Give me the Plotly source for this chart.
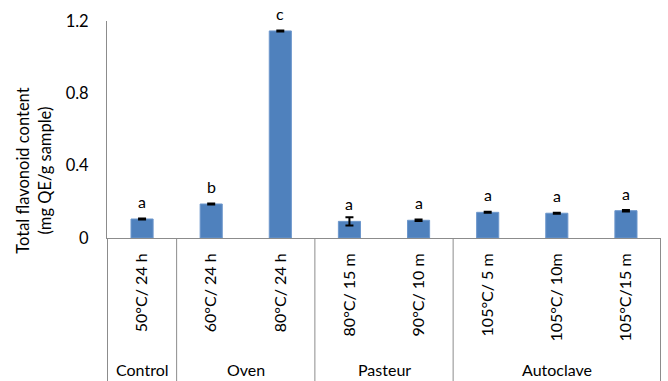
import plotly.graph_objects as go

categories = ["50°C/ 24 h", "60°C/ 24 h", "80°C/ 24 h", "80°C/ 15 m", "90°C/ 10 m",
              "105°C/ 5 m", "105°C/ 10m", "105°C/15 m"]
values = [0.105, 0.188, 1.145, 0.092, 0.098, 0.142, 0.137, 0.151]
errors = [0.003, 0.003, 0.003, 0.023, 0.004, 0.003, 0.003, 0.004]
letters = ["a", "b", "c", "a", "a", "a", "a", "a"]
groups = ["Control", "Oven", "Pasteur", "Autoclave"]
group_sizes = [1, 2, 2, 3]
y_ticks = [0, 0.4, 0.8, 1.2]
y_tick_text = ["0", "0.4", "0.8", "1.2"]
y_title = "Total flavonoid content<br>(mg QE/g sample)"

FONT = "Lato, Calibri, sans-serif"
GRAY = "#8c8c8c"

fig = go.Figure()
fig.add_trace(go.Bar(
    x=categories, y=values,
    marker=dict(color="#4F81BD", line=dict(color="#6d97cc", width=1)),
    error_y=dict(type="data", array=errors, color="black", thickness=2, width=4),
    showlegend=False,
))

annotations = []
for c, v, l in zip(categories, values, letters):
    annotations.append(dict(x=c, y=v, xref="x", yref="y", text=l, showarrow=False,
                            yanchor="bottom", yshift=6,
                            font=dict(family=FONT, size=16, color="black")))

shapes = []
bottom = -0.70
start = 0
bounds = [-0.5]
for g, n in zip(groups, group_sizes):
    center = start + (n - 1) / 2
    annotations.append(dict(x=center, y=-0.605, xref="x", yref="paper", text=g,
                            showarrow=False, yanchor="middle", xanchor="center",
                            font=dict(family=FONT, size=16, color="black")))
    start += n
    bounds.append(start - 0.5)
for b in bounds:
    shapes.append(dict(type="line", xref="x", yref="paper", x0=b, x1=b, y0=0, y1=bottom,
                       line=dict(color=GRAY, width=1)))

annotations.append(dict(x=-0.1318, y=0.31, xref="paper", yref="paper", text=y_title,
                        textangle=-90, showarrow=False, xanchor="center", yanchor="middle",
                        font=dict(family=FONT, size=16.5, color="black")))

fig.update_layout(
    width=668, height=381,
    margin=dict(l=107, r=7, t=21, b=143, autoexpand=False),
    plot_bgcolor="white", paper_bgcolor="white",
    bargap=0.68,
    font=dict(family=FONT, size=16, color="black"),
    annotations=annotations,
    shapes=shapes,
    xaxis=dict(type="category", tickangle=-90, showline=True, linecolor=GRAY, linewidth=1,
               ticks="", showgrid=False, ticklabelstandoff=8, automargin=False,
               tickfont=dict(family=FONT, size=16, color="black")),
    yaxis=dict(range=[0, 1.2], tickvals=y_ticks, ticktext=y_tick_text, showline=True,
               linecolor=GRAY, linewidth=1, showgrid=False, zeroline=False, ticks="",
               ticklabelstandoff=14, automargin=False,
               tickfont=dict(family=FONT, size=16.5, color="black")),
)

fig.write_html("out.html", config={"displayModeBar": False},
               post_script="document.body.style.margin='0';document.body.style.overflow='hidden';")
